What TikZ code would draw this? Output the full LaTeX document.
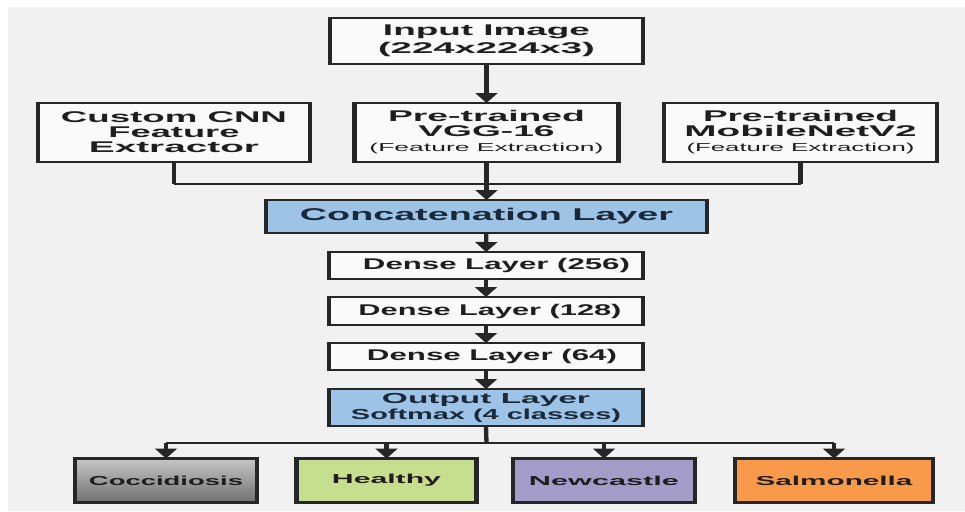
\documentclass[tikz,border=0pt]{standalone}
\usepackage{fontspec}
\setmainfont{Liberation Sans}
\usetikzlibrary{arrows.meta}

\definecolor{pagebg}{HTML}{F1F1F1}
\definecolor{boxfill}{HTML}{FAFAFA}
\definecolor{edge}{HTML}{262626}
\definecolor{ink}{HTML}{1E1E1E}
\definecolor{navy}{HTML}{1B2838}
\definecolor{layerblue}{HTML}{9DC3E6}
\definecolor{healthygreen}{HTML}{C5DF8E}
\definecolor{ndpurple}{HTML}{A39CC9}
\definecolor{salorange}{HTML}{F89A4A}
\definecolor{graytop}{HTML}{C6C6C6}
\definecolor{graybot}{HTML}{707070}

% stretch one line of text to a given width, keeping its height
\newcommand\wl[2]{\resizebox{#1pt}{\height}{#2}}
% heavier left and right sides of a box
\newcommand\sides[1]{%
  \draw[vedge] ([yshift=1.15pt]#1.north west) -- ([yshift=-1.15pt]#1.south west)
               ([yshift=1.15pt]#1.north east) -- ([yshift=-1.15pt]#1.south east);}

\begin{document}
\begin{tikzpicture}[x=1pt,y=-1pt,
  box/.style={draw=edge, line width=2.3pt, fill=boxfill, outer sep=0pt,
              inner sep=1pt, align=center, text=ink},
  vedge/.style={draw=edge, line width=4.3pt},
  vline/.style={draw=edge, line width=4.3pt},
  hline/.style={draw=edge, line width=2.3pt},
  tip/.style={-{Triangle[width=22pt,length=10pt]}},
  title/.style={font=\bfseries\fontsize{15.5pt}{15pt}\selectfont},
  dense/.style={font=\bfseries\fontsize{15.5pt}{15pt}\selectfont},
  cls/.style={box, minimum height=44pt, font=\bfseries\fontsize{13pt}{14pt}\selectfont},
]
% page
\useasboundingbox (0,0) rectangle (965,511);
\fill[white] (0,0) rectangle (965,511);
\fill[pagebg] (8,7) rectangle (965,511);

% input and the three feature extractors
\node[box, title, minimum width=313pt, minimum height=46pt] (input) at (486.5,41)
  {\wl{207}{Input Image}\\[2.5pt]\wl{217}{(224x224x3)}};
\node[box, title, minimum width=272pt, minimum height=59pt] (custom) at (174,132.5)
  {\wl{226}{Custom CNN}\\\wl{131}{Feature}\\\wl{170}{Extractor}};
\node[box, title, minimum width=264pt, minimum height=59pt] (vgg) at (486.5,132.5)
  {\wl{197}{Pre-trained}\\\wl{136}{VGG-16}\\
   \mdseries\fontsize{11.5pt}{12pt}\selectfont\wl{234}{(Feature Extraction)}};
\node[box, title, minimum width=273pt, minimum height=59pt] (mobile) at (800.5,132.5)
  {\wl{195}{Pre-trained}\\\wl{232}{MobileNetV2}\\
   \mdseries\fontsize{11.5pt}{12pt}\selectfont\wl{228}{(Feature Extraction)}};

% fusion and dense head
\node[box, fill=layerblue, text=navy, font=\bfseries\fontsize{17pt}{16pt}\selectfont,
      minimum width=441pt, minimum height=33pt] (concat) at (486.5,216.5)
  {\wl{373}{Concatenation Layer}};
\node[box, dense, minimum width=314pt, minimum height=27pt] (d256) at (486,265.5)
  {\hspace*{21pt}\wl{267}{Dense Layer (256)}};
\node[box, dense, minimum width=314pt, minimum height=28pt] (d128) at (486,311)
  {\hspace*{8pt}\wl{263}{Dense Layer (128)}};
\node[box, dense, minimum width=314pt, minimum height=27pt] (d64) at (486,356.5)
  {\hspace*{12pt}\wl{250}{Dense Layer (64)}};
\node[box, fill=layerblue, text=navy, font=\bfseries\fontsize{14.5pt}{15pt}\selectfont,
      minimum width=314pt, minimum height=37pt] (output) at (486,407.5)
  {\wl{208}{Output Layer}\\[1pt]\wl{270}{Softmax (4 classes)}};

% classes
\node[cls, minimum width=182pt, top color=graytop, bottom color=graybot]
  (cocc) at (166,480.5) {\wl{154}{Coccidiosis}};
\node[cls, minimum width=180pt, fill=healthygreen] (healthy) at (386.5,480.5) {\wl{109}{Healthy}};
\node[cls, minimum width=182pt, fill=ndpurple] (newc) at (604,480.5) {\wl{150}{Newcastle}};
\node[cls, minimum width=198pt, fill=salorange] (salm) at (834,480.5) {\wl{157}{Salmonella}};

\foreach \n in {input,custom,vgg,mobile,concat,d256,d128,d64,output,cocc,healthy,newc,salm}
  {\sides{\n}}

% connectors
\coordinate (bus1) at (486.5,184);
\coordinate (bus2) at (486.5,443);

\draw[vline, tip] (input) -- (vgg);
\draw[vline] (custom.south) -- (custom.south |- bus1);
\draw[vline] (mobile.south) -- (mobile.south |- bus1);
\draw[hline] (custom.south |- bus1) -- (mobile.south |- bus1);
\draw[vline, tip] (vgg) -- (concat);
\draw[vline, tip] (concat) -- (d256);
\draw[vline, tip] (d256) -- (d128);
\draw[vline, tip] (d128) -- (d64);
\draw[vline, tip] (d64) -- (output);
\draw[vline] (output.south) -- (bus2);
\draw[hline] (cocc.north |- bus2) -- (salm.north |- bus2);
\foreach \c in {cocc,healthy,newc,salm}
  \draw[vline, tip] (\c.north |- bus2) -- (\c.north);
\end{tikzpicture}
\end{document}
